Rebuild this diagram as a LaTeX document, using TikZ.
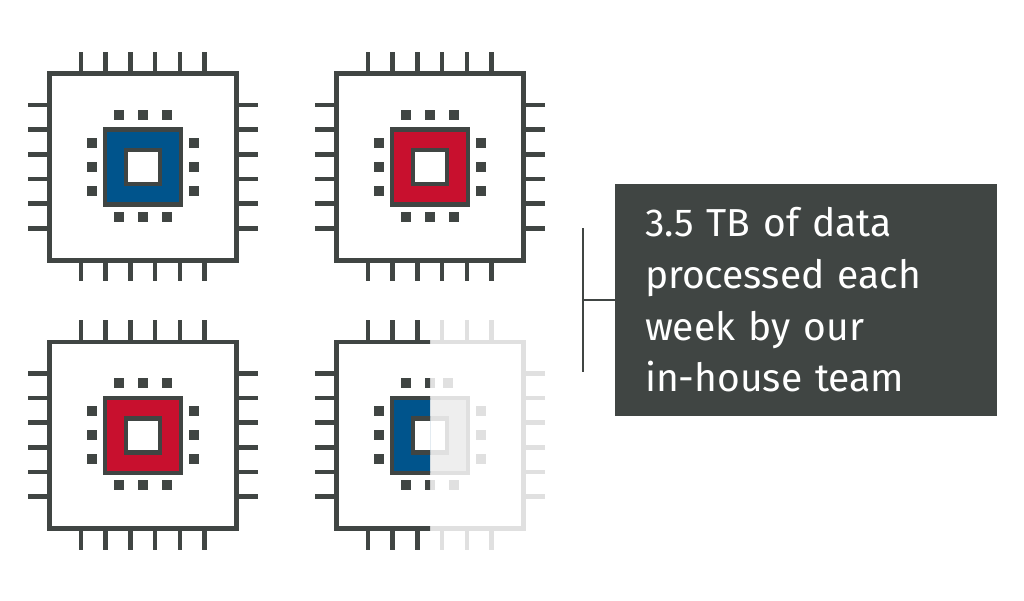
\documentclass[tikz,border=0pt]{standalone}
\usepackage{fontspec}
\setmainfont{Fira Sans}
\definecolor{chipdark}{HTML}{404543}
\definecolor{chiplight}{HTML}{E0E0E0}
\definecolor{chippale}{HTML}{EEEEEE}
\definecolor{chipblue}{HTML}{00548C}
\definecolor{chipred}{HTML}{C8102E}
\tikzset{
  chipline/.style={line width=4.6pt},
  leadline/.style={line width=2pt,draw=chipdark},
  notebox/.style={rectangle,fill=chipdark,draw=none,minimum width=382pt,minimum height=231.5pt,
    inner sep=0pt,text=white,text width=321.4pt,align=left,font=\fontsize{39}{51.7}\selectfont},
}
% body of one chip, drawn around (0,0) = its centre
\newcommand{\chipbody}[3]{%
  \draw[chipline,draw=#1] (-93.7,-93.3) rectangle (93.7,93.3);
  \foreach \p in {-62,-37.3,-12.6,12.1,36.8,61.5}{
    \draw[chipline,draw=#1] (\p,-93.3) -- (\p,-115);
    \draw[chipline,draw=#1] (\p,93.3) -- (\p,114.5);
  }
  \foreach \p in {-62,-37.3,-12.6,12,36.7,61.3}{
    \draw[chipline,draw=#1] (-93.7,\p) -- (-115,\p);
    \draw[chipline,draw=#1] (93.7,\p) -- (115,\p);
  }
  \draw[chipline,draw=#1,fill=#2] (-38,-37.5) rectangle (38,37.5);
  \draw[chipline,draw=#1,fill=white] (-17,-17) rectangle (17,17);
  \foreach \p in {-24,0,24}{
    \fill[#1] (\p-5,45) rectangle (\p+5,55);
    \fill[#1] (-56.3,\p-5) rectangle (-46.3,\p+5);
    \fill[#1] (46,\p-5) rectangle (56,\p+5);
  }
  \foreach \p in {#3}{
    \fill[#1] (\p-5,-57) rectangle (\p+5,-47);
  }
}
\begin{document}
\begin{tikzpicture}[x=1pt,y=-1pt]
\useasboundingbox (0,0) rectangle (1024,601);
\begin{scope}[shift={(143,167)}]\chipbody{chipdark}{chipblue}{-24,0,24}\end{scope}
\begin{scope}[shift={(430,167)}]\chipbody{chipdark}{chipred}{-24,0,24}\end{scope}
\begin{scope}[shift={(143,435.3)}]\chipbody{chipdark}{chipred}{-24,0,24}\end{scope}
\begin{scope}
  \clip (429.7,320) rectangle (560,560);
  \begin{scope}[shift={(430,435.3)}]\chipbody{chiplight}{chippale}{0,18}\end{scope}
\end{scope}
\begin{scope}
  \clip (300,320) rectangle (430,560);
  \begin{scope}[shift={(430,435.3)}]\chipbody{chipdark}{chipblue}{-24,0}\end{scope}
\end{scope}
\node[notebox] (note) at (805.7,300) {3.5 TB of data\\processed each\\week by our\\in-house team};
\coordinate (bartop) at (583.3,228.3);
\coordinate (barbot) at (583.3,371.7);
\draw[leadline] (bartop) -- (barbot);
\draw[leadline] (note.west) -- (note.west -| bartop);
\end{tikzpicture}
\end{document}
